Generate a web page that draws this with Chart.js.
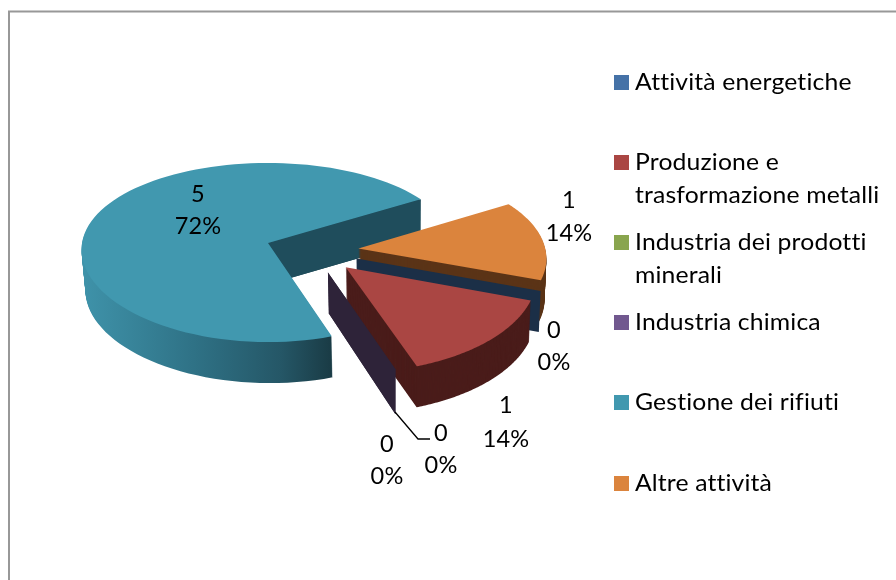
<!DOCTYPE html>
<html>
<head>
<meta charset="utf-8">
<style>html,body{margin:0;padding:0;background:#fff}canvas{display:block}</style>
<script src="https://cdn.jsdelivr.net/npm/chart.js@4"></script>
</head>
<body>
<canvas id="c" width="896" height="580"></canvas>
<script>
const categories = ["Attività energetiche","Produzione e trasformazione metalli","Industria dei prodotti minerali","Industria chimica","Gestione dei rifiuti","Altre attività"];
const values = [0,1,0,0,5,1];
const percentLabels = ["0%","14%","0%","0%","72%","14%"];
const colors = ["#4572A7","#AA4643","#89A54E","#71588F","#4198AF","#DB843D"];
const wallColors = ["#1b2f47","#4a1c1a","#2e2339","#2e2339","#1f4d5c","#5b3417"];
const legendLines = [["Attività energetiche"],["Produzione e","trasformazione metalli"],["Industria dei prodotti","minerali"],["Industria chimica"],["Gestione dei rifiuti"],["Altre attività"]];

// layout
const legendY = [75,155,235,315,395,476];
const labelPos = [[554,338,370],[506,413,447],[387,452,484],[441,441,473],[198,202,234],[569,208,241]];
const FONT = '24px Lato';
const TEXT_STRETCH = 1.03;
const PIE_R = 186, ORIGIN_X = 268, ORIGIN_Y = 243, SHIFT_U = 43.7, SHIFT_V = 16, TILT = 0.476, PERSP_Y = 0.00057, PERSP_X = 0.0004;
const ZERO_WALL_SCALE = 0.965, WALL_DEPTH = 41;

function project(u, v, t) {
  const U = u + SHIFT_U, V = v + SHIFT_V;
  const x = ORIGIN_X + U / (1 - PERSP_X * V), y = ORIGIN_Y + TILT * V / (1 - PERSP_Y * V);
  return [x + (400 - x) * 0.0125 * t, y + t * WALL_DEPTH];
}
function geom(arc) {
  const s = PIE_R / arc.outerRadius;
  const off = (arc.options.offset || 0) / 4 * s;
  const mid = (arc.startAngle + arc.endAngle) / 2;
  return {dx: Math.cos(mid) * off, dy: Math.sin(mid) * off, R: PIE_R};
}
function fillSlice(ctx, arc, t, fill) {
  const g = geom(arc), n = 96, span = arc.endAngle - arc.startAngle;
  ctx.beginPath();
  const a = project(g.dx, g.dy, t);
  ctx.moveTo(a[0], a[1]);
  for (let i = 0; i <= n; i++) {
    const ang = arc.startAngle + span * i / n;
    const p = project(g.dx + g.R * Math.cos(ang), g.dy + g.R * Math.sin(ang), t);
    ctx.lineTo(p[0], p[1]);
  }
  ctx.closePath();
  ctx.fillStyle = fill;
  ctx.fill();
}
function radialWall(ctx, arc, ang, fill, scale, tEnd) {
  const g = geom(arc), r = g.R * (scale || 1), te = tEnd || 1;
  const ex = g.dx + r * Math.cos(ang), ey = g.dy + r * Math.sin(ang);
  const pts = [project(g.dx, g.dy, 0), project(ex, ey, 0), project(ex, ey, te), project(g.dx, g.dy, 1)];
  ctx.beginPath();
  pts.forEach((p, i) => i ? ctx.lineTo(p[0], p[1]) : ctx.moveTo(p[0], p[1]));
  ctx.closePath();
  ctx.fillStyle = fill;
  ctx.fill();
}
function drawSolid(ctx, arc, wall) {
  for (let k = 41; k >= 1; k--) fillSlice(ctx, arc, k / 41, wall);
}
function stretchedText(ctx, s, x, y, k) {
  ctx.save();
  ctx.translate(x, y);
  ctx.scale(k, 1);
  ctx.fillText(s, 0, 0);
  ctx.restore();
}

const pie3d = {
  id: 'pie3d',
  beforeDatasetsDraw(chart) {
    const ctx = chart.ctx, arcs = chart.getDatasetMeta(0).data;
    ctx.save();
    // frame
    ctx.strokeStyle = '#989898';
    ctx.lineWidth = 2;
    ctx.strokeRect(9, 11.5, 1000, 1000);

    // Gestione dei rifiuti
    const grad = ctx.createLinearGradient(81, 0, 330, 0);
    grad.addColorStop(0, '#3f93aa');
    grad.addColorStop(0.45, '#2f7286');
    grad.addColorStop(0.8, '#255767');
    grad.addColorStop(1, '#1a3c46');
    drawSolid(ctx, arcs[4], grad);
    radialWall(ctx, arcs[4], arcs[4].endAngle, wallColors[4]);
    fillSlice(ctx, arcs[4], 0, colors[4]);
    // Altre attività
    drawSolid(ctx, arcs[5], wallColors[5]);
    fillSlice(ctx, arcs[5], 0, colors[5]);
    // Attività energetiche (zero value: only its wall shows)
    radialWall(ctx, arcs[0], arcs[0].startAngle, wallColors[0]);
    // Produzione
    drawSolid(ctx, arcs[1], wallColors[1]);
    fillSlice(ctx, arcs[1], 0, colors[1]);
    // Zero slices at the same angle
    radialWall(ctx, arcs[2], arcs[2].startAngle, wallColors[2], ZERO_WALL_SCALE, 1.1);
    radialWall(ctx, arcs[3], arcs[3].startAngle, wallColors[3], ZERO_WALL_SCALE, 1.1);
    ctx.restore();
    return false;
  },
  afterDraw(chart) {
    const ctx = chart.ctx;
    ctx.save();
    ctx.font = FONT;
    ctx.letterSpacing = '0.15px';
    ctx.fillStyle = '#000';
    ctx.textBaseline = 'alphabetic';
    // legend
    categories.forEach((c, i) => {
      ctx.fillStyle = colors[i];
      ctx.fillRect(614, legendY[i], 15, 15);
      ctx.fillStyle = '#000';
      ctx.textAlign = 'left';
      legendLines[i].forEach((line, j) => stretchedText(ctx, line, 635, legendY[i] + 15 + j * 32.5, TEXT_STRETCH));
    });
    // data labels
    ctx.textAlign = 'center';
    values.forEach((v, i) => {
      const p = labelPos[i];
      stretchedText(ctx, String(v), p[0], p[1], 0.98);
      stretchedText(ctx, percentLabels[i], p[0], p[2], 0.98);
    });
    // leader line
    ctx.strokeStyle = '#000';
    ctx.lineWidth = 1.3;
    ctx.beginPath();
    ctx.moveTo(395, 412);
    ctx.lineTo(418, 439);
    ctx.lineTo(430, 439);
    ctx.stroke();
    ctx.restore();
  }
};

new Chart(document.getElementById('c'), {
  type: 'pie',
  data: {
    labels: categories,
    datasets: [{data: values, backgroundColor: colors, borderWidth: 0, offset: 186, radius: 186}]
  },
  options: {
    responsive: false,
    animation: false,
    rotation: 110,
    plugins: {legend: {display: false}, tooltip: {enabled: false}}
  },
  plugins: [pie3d]
});
</script>
</body>
</html>
